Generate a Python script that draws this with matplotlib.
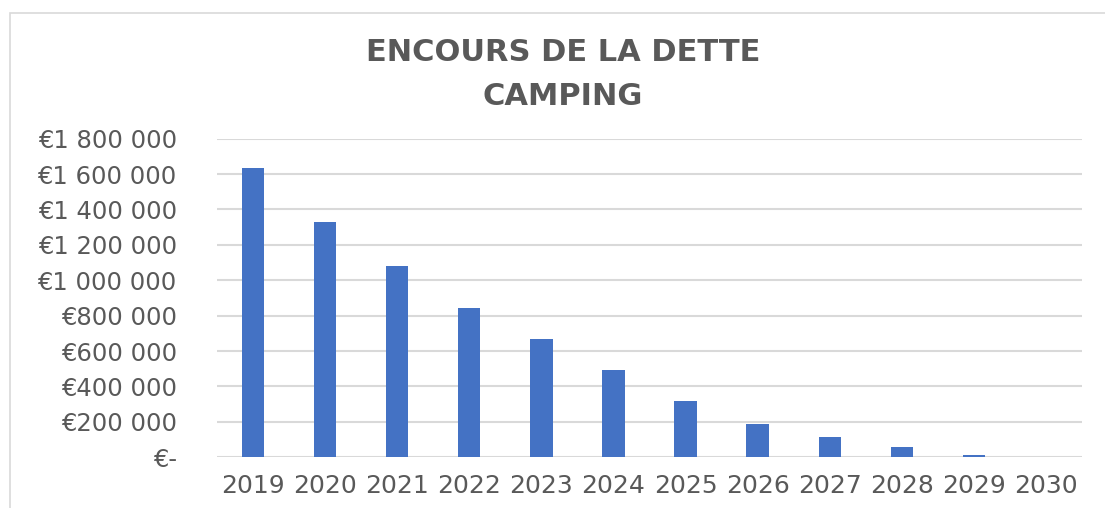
import matplotlib.pyplot as plt
from matplotlib.patches import Rectangle
from matplotlib.ticker import FuncFormatter

years = ['2019', '2020', '2021', '2022', '2023', '2024',
         '2025', '2026', '2027', '2028', '2029', '2030']
encours = [1634000, 1332000, 1078000, 846000, 669000, 495000,
           320000, 187000, 115000, 58000, 11000, 0]
y_ticks = [0, 200000, 400000, 600000, 800000, 1000000,
           1200000, 1400000, 1600000, 1800000]

text_grey = '#595959'
grid_grey = '#D9D9D9'
bar_blue = '#4472C4'


def euro(v, pos=None):
    if v == 0:
        return '€-'
    return '€' + f'{v:,.0f}'.replace(',', ' ')


fig = plt.figure(figsize=(11.05, 5.08), dpi=100)
ax = fig.add_axes([0.1964, 0.0998, 0.7828, 0.6272])

ax.bar(years, encours, width=0.31, color=bar_blue, zorder=3)

ax.set_xlim(-0.5, len(years) - 0.5)
ax.set_ylim(0, 1800000)
ax.set_yticks(y_ticks)
ax.yaxis.set_major_formatter(FuncFormatter(euro))
ax.yaxis.grid(True, color=grid_grey, linewidth=1.5, zorder=0)
ax.set_axisbelow(True)

for s in ax.spines.values():
    s.set_visible(False)
ax.tick_params(axis='both', length=0, colors=text_grey)
ax.tick_params(axis='y', labelsize=17.5, pad=29)
ax.tick_params(axis='x', labelsize=18, pad=12)

# title, two lines
fig.text(0.5095, 0.880, 'ENCOURS DE LA DETTE', ha='center', va='baseline',
         fontsize=22, fontweight='bold', color=text_grey)
fig.text(0.5095, 0.793, 'CAMPING', ha='center', va='baseline',
         fontsize=22, fontweight='bold', color=text_grey)

# chart frame (only left and top edges visible in the crop)
frame = Rectangle((9.5 / 1105, -0.2), 1.2, 1.2 - 12.5 / 508 + 0.0,
                  transform=fig.transFigure, fill=False,
                  edgecolor=grid_grey, linewidth=1.2, clip_on=False)
fig.add_artist(frame)

fig.savefig('out.png', dpi=100)
